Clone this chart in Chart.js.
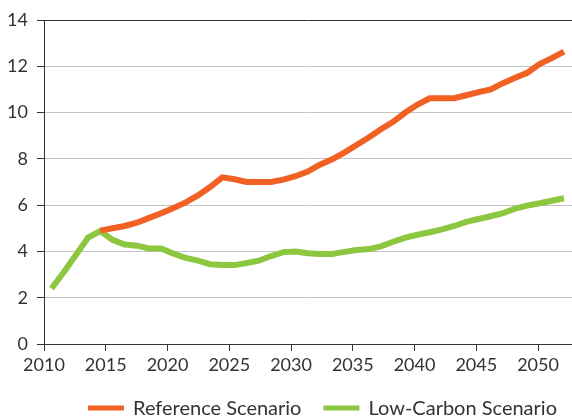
<!DOCTYPE html>
<html>
<head>
<meta charset="utf-8">
<script src="https://cdn.jsdelivr.net/npm/chart.js@4/dist/chart.umd.min.js"></script>
<style>
  html, body { margin: 0; padding: 0; background: #fff; }
  #wrap { width: 572px; height: 419px; position: relative; }
</style>
</head>
<body>
<div id="wrap"><canvas id="chart"></canvas></div>
<script>
// yearly values, 2010 - 2052
const years = [];
for (let y = 2010; y <= 2052; y++) years.push(y);

const referenceScenario = [
  null, null, null, null, 4.9, 5.0, 5.1, 5.24, 5.45, 5.65,
  5.88, 6.12, 6.42, 6.78, 7.2, 7.12, 7.0, 7.0, 7.0, 7.1,
  7.25, 7.45, 7.75, 7.98, 8.27, 8.6, 8.92, 9.28, 9.6, 10.0,
  10.35, 10.62, 10.62, 10.62, 10.75, 10.88, 11.0, 11.27, 11.5, 11.72,
  12.1, 12.35, 12.63
];

const lowCarbonScenario = [
  2.4, 3.1, 3.85, 4.6, 4.88, 4.5, 4.3, 4.25, 4.13, 4.13,
  3.9, 3.72, 3.6, 3.45, 3.41, 3.41, 3.5, 3.6, 3.8, 3.97,
  4.0, 3.92, 3.89, 3.89, 3.98, 4.06, 4.1, 4.22, 4.42, 4.6,
  4.72, 4.83, 4.95, 5.1, 5.28, 5.4, 5.52, 5.65, 5.85, 5.98,
  6.08, 6.19, 6.3
];

const yTicks = [0, 2, 4, 6, 8, 10, 12, 14];

const ORANGE = '#f26124';
const GREEN = '#8dc63f';
const DARK = '#333333';
const FONT = 'Lato, "Open Sans", sans-serif';

function toPoints(values) {
  return values.map((v, i) => ({ x: years[i], y: v }));
}

// legend drawn as one row under the axis: swatch, then label
const bottomLegend = {
  id: 'bottomLegend',
  afterDraw(chart, args, opts) {
    const ctx = chart.ctx;
    ctx.save();
    ctx.font = `${opts.fontSize}px ${FONT}`;
    ctx.textBaseline = 'middle';
    ctx.fillStyle = DARK;
    let x = opts.left;
    chart.data.datasets.forEach(ds => {
      ctx.fillStyle = ds.borderColor;
      ctx.fillRect(x, opts.y - opts.boxHeight / 2, opts.boxWidth, opts.boxHeight);
      x += opts.boxWidth + opts.textGap;
      ctx.fillStyle = DARK;
      ctx.fillText(ds.label, x, opts.y + 1);
      x += ctx.measureText(ds.label).width + opts.itemGap;
    });
    ctx.restore();
  }
};

new Chart(document.getElementById('chart'), {
  type: 'line',
  data: {
    datasets: [
      {
        label: 'Reference Scenario',
        data: toPoints(referenceScenario),
        borderColor: ORANGE,
        backgroundColor: ORANGE,
        borderWidth: 6,
        pointRadius: 0,
        tension: 0,
        borderCapStyle: 'butt',
        xAxisID: 'xd'
      },
      {
        label: 'Low-Carbon Scenario',
        data: toPoints(lowCarbonScenario),
        borderColor: GREEN,
        backgroundColor: GREEN,
        borderWidth: 6,
        pointRadius: 0,
        tension: 0,
        borderCapStyle: 'butt',
        xAxisID: 'xd'
      }
    ]
  },
  options: {
    responsive: true,
    maintainAspectRatio: false,
    animation: false,
    layout: { padding: { top: 20, right: 0, left: 0, bottom: 0 } },
    plugins: {
      tooltip: { enabled: false },
      legend: { display: false },
      bottomLegend: {
        left: 88, y: 408, fontSize: 20,
        boxWidth: 36, boxHeight: 5, textGap: 9, itemGap: 22
      }
    },
    scales: {
      // data axis, points sit slightly inside each year's tick
      xd: {
        type: 'linear',
        display: false,
        min: 2009.385,
        max: 2052.66
      },
      x: {
        type: 'linear',
        position: 'bottom',
        min: 2010,
        max: 2052.75,
        border: { color: DARK, width: 1 },
        grid: { drawOnChartArea: false, tickLength: 7, tickColor: DARK },
        ticks: {
          stepSize: 5,
          includeBounds: false,
          autoSkip: false,
          maxRotation: 0,
          padding: 3,
          color: DARK,
          font: { family: FONT, size: 18 },
          callback: v => String(v)
        },
        afterFit: scale => { scale.height = 75; }
      },
      y: {
        min: 0,
        max: 14,
        border: { color: DARK, width: 1 },
        afterBuildTicks: scale => { scale.ticks = yTicks.map(v => ({ value: v })); },
        grid: {
          tickLength: 7,
          tickColor: DARK,
          color: ctx => (ctx.tick && (ctx.tick.value === 14 || ctx.tick.value === 0)) ? DARK : '#c4c4c4'
        },
        ticks: {
          padding: 9,
          color: DARK,
          font: { family: FONT, size: 18 }
        },
        afterFit: scale => { scale.width = 44; }
      }
    }
  },
  plugins: [bottomLegend]
});
</script>
</body>
</html>
